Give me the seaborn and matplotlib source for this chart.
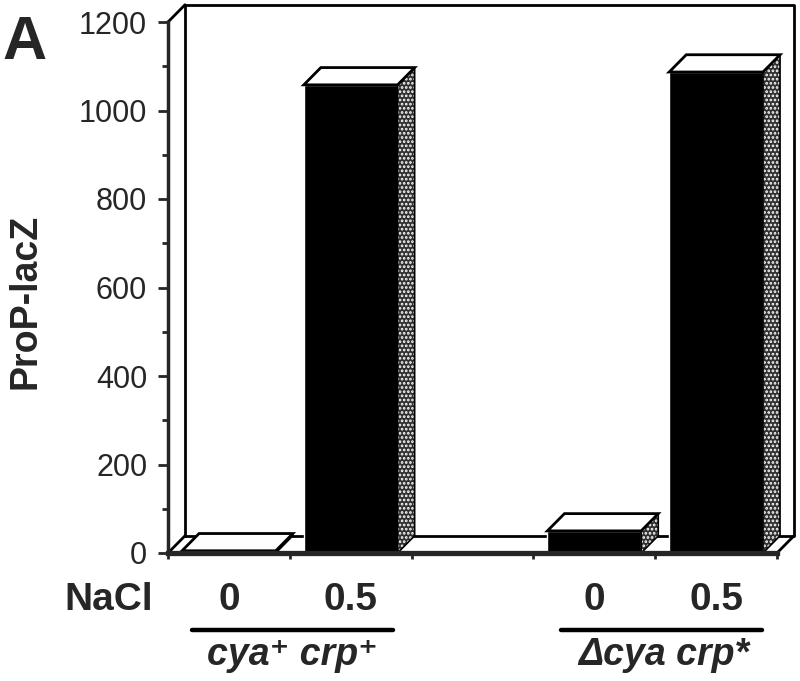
"""ProP-lacZ expression at 0 / 0.5 M NaCl in cya+ crp+ and delta-cya crp* strains (panel A)."""

import matplotlib
matplotlib.use("Agg")
import matplotlib.pyplot as plt
import seaborn as sns
import pandas as pd
import numpy as np
from matplotlib.patches import Polygon

# data; the middle slot is an empty spacer between strains
slots = ["wt_0", "wt_05", "gap", "mut_0", "mut_05"]
nacl_labels = ["0", "0.5", "", "0", "0.5"]
prop_lacz = [5, 1058, np.nan, 50, 1087]
strain_labels = ["cya\u207a crp\u207a", "\u0394cya crp*"]
strain_spans = [(-0.30, 1.35), (2.73, 4.38)]
strain_centers = [0.52, 3.57]
y_major = [0, 200, 400, 600, 800, 1000, 1200]
y_minor = [100, 300, 500, 700, 900, 1100]

# fake 3D depth (data units)
dx, dy = 0.14, 39

sns.set_style("ticks")
plt.rcParams['font.family'] = ['Liberation Sans', 'DejaVu Sans']
plt.rcParams['hatch.linewidth'] = 1.3

df = pd.DataFrame({"slot": slots, "value": prop_lacz})

fig = plt.figure(figsize=(8, 6.81), dpi=100)
ax = fig.add_axes([168 / 800, 1 - 553 / 681, 609 / 800, 531 / 681])

sns.barplot(data=df, x="slot", y="value", order=slots, color="black",
            width=0.77, saturation=1, errorbar=None, ax=ax, zorder=3)

# tops and sides of the bars
for p in ax.patches:
    h = p.get_height()
    if np.isnan(h):
        continue
    x0, w = p.get_x(), p.get_width()
    x1 = x0 + w
    top = Polygon([(x0, h), (x1, h), (x1 + dx, h + dy), (x0 + dx, h + dy)],
                  closed=True, facecolor="white", edgecolor="black", lw=2,
                  zorder=4, clip_on=False)
    # stippled side: dark face with white dots
    side = Polygon([(x1, 0), (x1 + dx, dy), (x1 + dx, h + dy), (x1, h)],
                   closed=True, facecolor="#303030", edgecolor="white", lw=0,
                   hatch="....", zorder=4, clip_on=False)
    rim = Polygon(side.get_xy(), closed=True, fill=False, edgecolor="black",
                  lw=1.2, zorder=4, clip_on=False)
    ax.add_patch(side)
    ax.add_patch(rim)
    ax.add_patch(top)

# back wall and floor
xl, xr = -0.5, 4.5
wall_kw = dict(color="black", lw=2, clip_on=False, zorder=1)
ax.plot([xl + dx, xr + dx, xr + dx, xl + dx, xl + dx],
        [dy, dy, 1200 + dy, 1200 + dy, dy], **wall_kw)
ax.plot([xl, xl + dx], [1200, 1200 + dy], **wall_kw)
ax.plot([xl, xl + dx], [0, dy], **wall_kw)
ax.plot([xr, xr + dx], [0, dy], color="black", lw=2, clip_on=False, zorder=5)

ax.set_xlim(xl, xr)
ax.set_ylim(0, 1200)
sns.despine(ax=ax)
ax.spines["left"].set_linewidth(2.5)
ax.spines["bottom"].set_linewidth(3.8)
ax.spines["bottom"].set_zorder(6)

ax.set_yticks(y_major)
ax.set_yticks(y_minor, minor=True)
ax.tick_params(axis="y", which="major", length=7.5, width=2, pad=7.5, labelsize=22)
ax.tick_params(axis="y", which="minor", length=4.5, width=2)

ax.set_xticks(range(len(slots)))
ax.set_xticklabels(nacl_labels, fontsize=28, fontweight="bold")
ax.set_xticks(np.arange(-0.5, 5, 1), minor=True)
ax.tick_params(axis="x", which="major", length=0, pad=21)
ax.tick_params(axis="x", which="minor", length=4.5, width=2)
ax.set_xlabel("")

ax.set_ylabel("ProP-lacZ", fontsize=27, fontweight="bold")
ax.yaxis.set_label_coords(-0.205, 0.4746)

# strain brackets
for (a, b), c, lab in zip(strain_spans, strain_centers, strain_labels):
    ax.plot([a, b], [-0.145, -0.145], color="black", lw=3.2, clip_on=False,
            transform=ax.get_xaxis_transform())
    ax.text(c, -0.211, lab, transform=ax.get_xaxis_transform(), ha="center",
            va="baseline", fontsize=27, fontweight="bold", fontstyle="italic")

fig.text(153 / 800, 1 - 610 / 681, "NaCl", ha="right", va="baseline",
         fontsize=28, fontweight="bold")
fig.text(2 / 800, 1 - 15 / 681, "A", ha="left", va="top",
         fontsize=44, fontweight="bold")

fig.savefig("out.png", dpi=100)
